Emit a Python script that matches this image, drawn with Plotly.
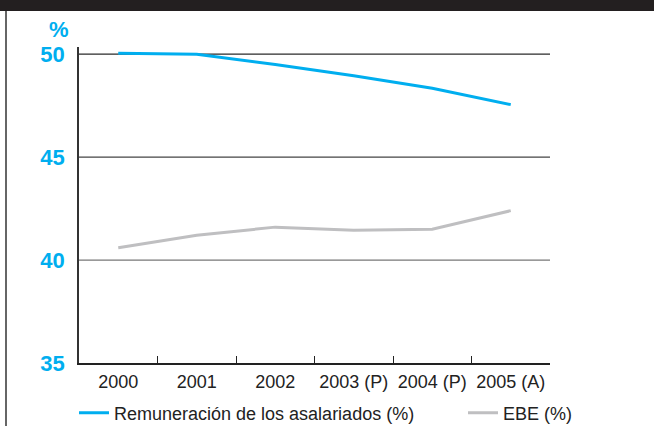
import plotly.graph_objects as go

# Categories and series (percent of GDP)
years = ["2000", "2001", "2002", "2003 (P)", "2004 (P)", "2005 (A)"]
remuneracion = [50.05, 50.0, 49.5, 48.95, 48.35, 47.55]
ebe = [40.6, 41.2, 41.6, 41.45, 41.5, 42.4]
y_ticks = [35, 40, 45, 50]

W, H = 654, 426
ML, MR, MT, MB = 79, 104, 47, 63
PW, PH = W - ML - MR, H - MT - MB

BLUE = "#00AEEF"
GREY = "#BFBFC1"
FONT = "Liberation Sans, Arial, sans-serif"


def px_x(X):
    return (X - ML) / PW


def px_y(Y):
    return (H - MB - Y) / PH


fig = go.Figure()
fig.add_trace(go.Scatter(
    x=years, y=remuneracion, mode="lines",
    name="Remuneración de los asalariados (%)",
    line=dict(color=BLUE, width=3), legend="legend",
))
fig.add_trace(go.Scatter(
    x=years, y=ebe, mode="lines", name="EBE (%)",
    line=dict(color=GREY, width=3), legend="legend2",
))

# horizontal reference lines at each y tick (35 is the x-axis line)
grid_colors = {50: "#2a2a2a", 45: "#444444", 40: "#777777"}
shapes = []
for v, c in grid_colors.items():
    shapes.append(dict(type="line", xref="paper", yref="y", x0=0, x1=1,
                       y0=v, y1=v, line=dict(color=c, width=1.3), layer="below"))

# dark header band and left frame rule
shapes.append(dict(type="rect", xref="paper", yref="paper",
                   x0=px_x(0), x1=px_x(W), y0=px_y(11), y1=px_y(0),
                   fillcolor="#231F20", line=dict(width=0)))
shapes.append(dict(type="line", xref="paper", yref="paper",
                   x0=px_x(6), x1=px_x(6), y0=px_y(11), y1=px_y(H),
                   line=dict(color="#333333", width=1.5)))

legend_common = dict(
    orientation="h", xanchor="left", yanchor="middle",
    xref="container", yref="container",
    font=dict(family=FONT, size=18, color="#222222"),
    bgcolor="rgba(0,0,0,0)", borderwidth=0, itemwidth=30,
)

fig.update_layout(
    width=W, height=H,
    margin=dict(l=ML, r=MR, t=MT, b=MB, pad=0, autoexpand=False),
    paper_bgcolor="white", plot_bgcolor="white",
    font=dict(family=FONT),
    shapes=shapes,
    showlegend=True,
    xaxis=dict(
        type="category", range=[-0.5, len(years) - 0.5],
        showgrid=False, zeroline=False,
        showline=True, linecolor="#222222", linewidth=1.5,
        ticks="inside", ticklen=7, tickcolor="#222222", tickwidth=1.2,
        tickson="boundaries",
        tickfont=dict(family=FONT, size=18, color="#222222"),
        ticklabelstandoff=2,
    ),
    yaxis=dict(
        range=[35, 50.35], tickvals=y_ticks, showgrid=False, zeroline=False,
        showline=True, linecolor="#333333", linewidth=1.5,
        ticks="", tickfont=dict(family=FONT, size=22, color=BLUE, weight="bold"),
        ticklabelstandoff=8,
    ),
    legend=dict(x=74 / W, y=1 - 413 / H, **legend_common),
    legend2=dict(x=463 / W, y=1 - 413 / H, **legend_common),
    annotations=[dict(
        text="<b>%</b>", xref="paper", yref="paper", x=0, y=px_y(30),
        xanchor="right", yanchor="middle", xshift=-8, showarrow=False,
        font=dict(family=FONT, size=22, color=BLUE),
    )],
)

fig.write_html("out.html")
